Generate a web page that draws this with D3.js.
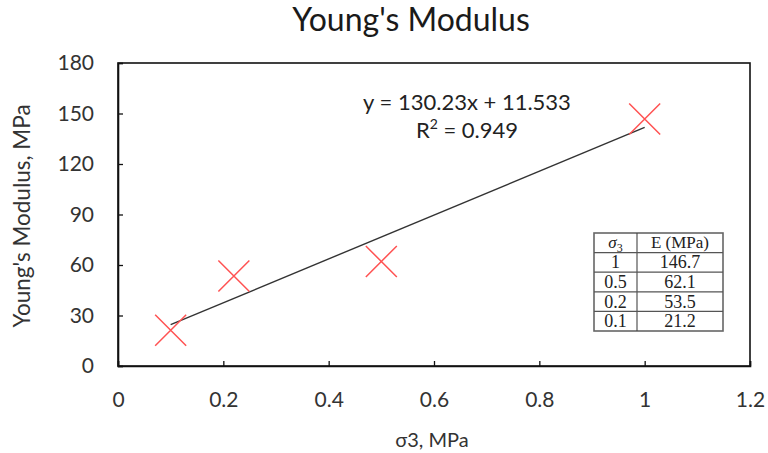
<!DOCTYPE html>
<html><head><meta charset="utf-8">
<script src="https://cdn.jsdelivr.net/npm/d3@7"></script>
<style>body{margin:0;background:#fff}</style>
</head><body>
<svg id="c" width="768" height="453"></svg>
<script>
const sigma3 = [0.1, 0.22, 0.5, 1];
const modulus = [21.2, 53.5, 62.1, 146.7];
const tableSigma = ["1", "0.5", "0.2", "0.1"];
const tableE = ["146.7", "62.1", "53.5", "21.2"];
const xTicks = [0, 0.2, 0.4, 0.6, 0.8, 1, 1.2];
const yTicks = [0, 30, 60, 90, 120, 150, 180];
const slope = 130.23, intercept = 11.533;
const trendRange = [0.1, 1];

const svg = d3.select("#c");
const m = {l:118, r:750, t:63, b:366};
const x = d3.scaleLinear().domain([0,1.2]).range([m.l, m.r]);
const y = d3.scaleLinear().domain([0,180]).range([m.b, m.t]);
const font = "Lato, 'Open Sans', sans-serif";

svg.append("text").attr("x",411).attr("y",31).attr("text-anchor","middle")
  .attr("font-family",font).attr("font-size",32).attr("fill","#1a1a1a").text("Young's Modulus");

// frame
svg.append("rect").attr("x",m.l).attr("y",m.t).attr("width",m.r-m.l).attr("height",m.b-m.t)
  .attr("fill","none").attr("stroke","#111").attr("stroke-width",1.6);

const xa = svg.append("g").attr("transform",`translate(0,${m.b})`)
  .call(d3.axisBottom(x).tickValues(xTicks).tickSize(-5).tickPadding(26).tickFormat(d=>d3.format("~g")(d)));
const ya = svg.append("g").attr("transform",`translate(${m.l},0)`)
  .call(d3.axisLeft(y).tickValues(yTicks).tickSize(-5).tickPadding(24));
[xa,ya].forEach(a=>{
  a.select(".domain").attr("stroke","#111").attr("stroke-width",1.6);
  a.selectAll(".tick line").attr("stroke","#111").attr("stroke-width",1.3);
  a.selectAll(".tick text").attr("font-family",font).attr("font-size",21).attr("fill","#333");
});

svg.append("text").attr("x",432).attr("y",447).attr("text-anchor","middle")
  .attr("font-family",font).attr("font-size",20).attr("fill","#333").text("σ3, MPa");
svg.append("text").attr("transform","translate(30,216) rotate(-90)").attr("text-anchor","middle")
  .attr("font-family",font).attr("font-size",22.5).attr("fill","#333").text("Young's Modulus, MPa");

// trendline
svg.append("line")
  .attr("x1",x(trendRange[0])).attr("y1",y(slope*trendRange[0]+intercept))
  .attr("x2",x(trendRange[1])).attr("y2",y(slope*trendRange[1]+intercept))
  .attr("stroke","#333").attr("stroke-width",1.4);

// markers
const s = 15.5;
const g = svg.append("g").attr("stroke","#ff5252").attr("stroke-width",1.5).attr("fill","none");
sigma3.forEach((v,i)=>{
  const cx = x(v), cy = y(modulus[i]);
  g.append("path").attr("d",`M${cx-s},${cy-s}L${cx+s},${cy+s}M${cx-s},${cy+s}L${cx+s},${cy-s}`);
});

// equation
svg.append("text").attr("x",467).attr("y",110).attr("text-anchor","middle")
  .attr("font-family",font).attr("font-size",22).attr("fill","#222").text("y = 130.23x + 11.533");
const r2 = svg.append("text").attr("x",467).attr("y",138).attr("text-anchor","middle")
  .attr("font-family",font).attr("font-size",22).attr("fill","#222");
r2.append("tspan").text("R");
r2.append("tspan").attr("font-size",14).attr("dy",-9).text("2");
r2.append("tspan").attr("dy",9).text(" = 0.949");

// table
const tx = 594, tw1 = 43, tw2 = 86, tTop = 233, rh = 19.6;
const tg = svg.append("g");
const nRows = tableSigma.length + 1;
tg.append("rect").attr("x",tx).attr("y",tTop).attr("width",tw1+tw2).attr("height",rh*nRows)
  .attr("fill","#fff").attr("stroke","#666").attr("stroke-width",1.6);
tg.append("line").attr("x1",tx+tw1).attr("x2",tx+tw1).attr("y1",tTop).attr("y2",tTop+rh*nRows)
  .attr("stroke","#444").attr("stroke-width",1.1);
for(let i=1;i<nRows;i++){
  tg.append("line").attr("x1",tx).attr("x2",tx+tw1+tw2).attr("y1",tTop+rh*i).attr("y2",tTop+rh*i)
    .attr("stroke","#555").attr("stroke-width",1.3);
}
const serif = "'Liberation Serif', 'DejaVu Serif', serif";
const h1 = tg.append("text").attr("x",tx+tw1/2).attr("y",tTop+rh/2+5).attr("text-anchor","middle")
  .attr("font-family",serif).attr("font-size",17).attr("fill","#222");
h1.append("tspan").attr("font-style","italic").text("σ");
h1.append("tspan").attr("font-size",12).attr("dy",4).text("3");
tg.append("text").attr("x",tx+tw1+tw2/2).attr("y",tTop+rh/2+5.5).attr("text-anchor","middle")
  .attr("font-family",serif).attr("font-size",17).attr("fill","#222").text("E (MPa)");
tableSigma.forEach((v,i)=>{
  const cy = tTop+rh*(i+1)+rh/2+6;
  tg.append("text").attr("x",tx+tw1/2).attr("y",cy).attr("text-anchor","middle")
    .attr("font-family",serif).attr("font-size",18).attr("fill","#222").text(v);
  tg.append("text").attr("x",tx+tw1+tw2/2).attr("y",cy).attr("text-anchor","middle")
    .attr("font-family",serif).attr("font-size",18).attr("fill","#222").text(tableE[i]);
});
</script>
</body></html>
